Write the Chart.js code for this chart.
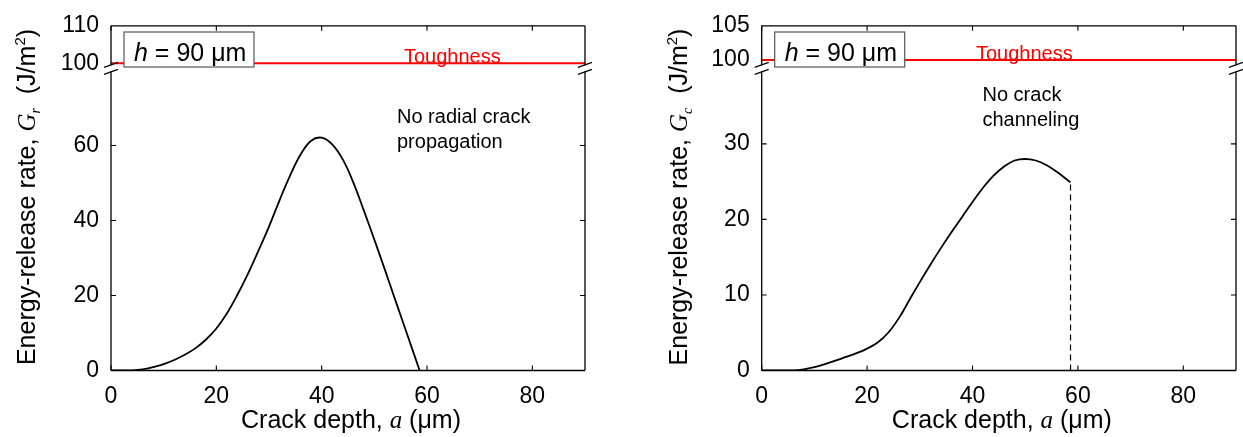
<!DOCTYPE html>
<html>
<head>
<meta charset="utf-8">
<script src="https://cdn.jsdelivr.net/npm/chart.js@4.4.0/dist/chart.umd.min.js"></script>
<style>
  html, body { margin: 0; padding: 0; background: #fff; }
  #wrap { position: relative; width: 1243px; height: 437px; }
  #left { position: absolute; left: 0; top: 0; }
  #right { position: absolute; left: 620px; top: 0; }
</style>
</head>
<body>
<div id="wrap">
  <canvas id="left" width="620" height="437"></canvas>
  <canvas id="right" width="623" height="437"></canvas>
</div>
<script>
// radial crack, G_r vs crack depth a (um)
const radialDepth = [0, 4, 6, 8, 10, 12, 14, 16, 18, 20, 22, 24, 26, 28, 30, 32, 34, 36, 38, 40, 42, 44, 46, 48, 50, 52, 54, 56, 58.6];
const radialG = [0, 0.05, 0.3, 0.9, 1.7, 2.8, 4.2, 5.9, 8.2, 11.2, 15.2, 20.2, 25.8, 32, 38.4, 45.4, 52, 57.6, 61.3, 62.1, 60.3, 56.3, 50.2, 42.7, 34.9, 26.9, 18.7, 10.6, 0];

// channel crack, G_c vs crack depth a (um)
const channelDepth = [0, 6, 8, 10, 12, 14, 16, 18, 20, 22, 24, 26, 28, 30, 32, 34, 36, 38, 40, 42, 44, 46, 48, 50, 52, 54, 56, 58.6];
const channelG = [0, 0, 0.15, 0.45, 0.85, 1.3, 1.8, 2.3, 2.9, 3.7, 5.0, 6.9, 9.3, 11.7, 14.0, 16.2, 18.3, 20.3, 22.3, 24.2, 25.8, 27.0, 27.8, 28.0, 27.8, 27.2, 26.3, 24.9];
const channelStopDepth = [58.6, 58.6];
const channelStopG = [0, 24.9];

const toughness = 100;
const depthRange = [0, 90];

const xTicks = [0, 20, 40, 60, 80];
const leftLowTicks = [0, 20, 40, 60];
const leftHighTicks = [100, 110];
const rightLowTicks = [0, 10, 20, 30];
const rightHighTicks = [100, 105];

const SANS = "'Liberation Sans', Arial, sans-serif";
const SERIF = "'Liberation Serif', 'Times New Roman', serif";

const pts = (xs, ys) => xs.map((x, i) => ({ x: x, y: ys[i] }));

// draw a line of mixed-font text centred on (x, y), optionally rotated
function drawRich(ctx, parts, x, y, rotate) {
  ctx.save();
  ctx.translate(x, y);
  if (rotate) ctx.rotate(-Math.PI / 2);
  ctx.textAlign = 'left';
  ctx.textBaseline = 'alphabetic';
  ctx.fillStyle = '#000';
  let total = 0;
  parts.forEach(p => { ctx.font = p[1]; total += ctx.measureText(p[0]).width; });
  let cx = -total / 2;
  parts.forEach(p => {
    ctx.font = p[1];
    ctx.fillText(p[0], cx, p[2] || 0);
    cx += ctx.measureText(p[0]).width;
  });
  ctx.restore();
}

// frame, inward ticks, axis break, labels
const decorPlugin = {
  id: 'decor',
  afterDatasetsDraw(chart) {
    const o = chart.options.plugins.decor;
    const ctx = chart.ctx;
    const a = chart.chartArea;
    const x = chart.scales.x, yl = chart.scales.yLow;
    const brk = yl.top;

    ctx.save();
    // frame
    ctx.strokeStyle = '#000';
    ctx.lineWidth = 1.3;
    ctx.beginPath();
    ctx.moveTo(a.left, a.top); ctx.lineTo(a.right, a.top);
    ctx.moveTo(a.left, a.bottom); ctx.lineTo(a.right, a.bottom);
    ctx.moveTo(a.left, a.top); ctx.lineTo(a.left, brk - 3);
    ctx.moveTo(a.left, brk + 3); ctx.lineTo(a.left, a.bottom);
    ctx.moveTo(a.right, a.top); ctx.lineTo(a.right, brk - 3);
    ctx.moveTo(a.right, brk + 3); ctx.lineTo(a.right, a.bottom);
    ctx.stroke();

    // inward tick marks
    ctx.lineWidth = 1.1;
    ctx.beginPath();
    xTicks.forEach(v => {
      const px = x.getPixelForValue(v);
      ctx.moveTo(px, a.bottom); ctx.lineTo(px, a.bottom - 5);
      ctx.moveTo(px, a.top); ctx.lineTo(px, a.top + 5);
    });
    o.lowTicks.forEach(v => {
      const py = yl.getPixelForValue(v);
      ctx.moveTo(a.left, py); ctx.lineTo(a.left + 5, py);
      ctx.moveTo(a.right, py); ctx.lineTo(a.right - 5, py);
    });
    ctx.stroke();

    // axis break marks
    ctx.lineWidth = 1.2;
    ctx.beginPath();
    [a.left, a.right].forEach(sx => {
      ctx.moveTo(sx - 7, brk - 1); ctx.lineTo(sx + 7, brk - 6);
      ctx.moveTo(sx - 7, brk + 6); ctx.lineTo(sx + 7, brk + 1);
    });
    ctx.stroke();

    // Toughness label
    ctx.fillStyle = '#ff0000';
    ctx.font = '20px ' + SANS;
    ctx.textBaseline = 'alphabetic';
    ctx.fillText('Toughness', o.tough[0], o.tough[1]);

    // h = 90 um box
    const bx = a.left + 13, by = 32, bw = 130, bh = 35;
    ctx.fillStyle = '#fff';
    ctx.fillRect(bx, by, bw, bh);
    ctx.strokeStyle = '#555';
    ctx.lineWidth = 1.2;
    ctx.strokeRect(bx, by, bw, bh);
    ctx.fillStyle = '#000';
    ctx.font = 'italic 25px ' + SANS;
    ctx.fillText('h', bx + 10, by + 29);
    const hw = ctx.measureText('h').width;
    ctx.font = '25px ' + SANS;
    ctx.fillText(' = 90 \u03bcm', bx + 10 + hw, by + 29);

    // note text
    ctx.font = '20px ' + SANS;
    o.note.forEach((t, i) => ctx.fillText(t, o.notePos[0], o.notePos[1] + i * 25));

    // axis titles
    drawRich(ctx, [
      ['Crack depth, ', '25px ' + SANS],
      ['a', 'italic 25px ' + SERIF],
      [' (\u03bcm)', '25px ' + SANS]
    ], (a.left + a.right) / 2 + 3, 428, false);
    drawRich(ctx, [
      ['Energy-release rate, ', '25px ' + SANS],
      ['G', 'italic 25px ' + SERIF],
      [o.sub, 'italic 14px ' + SERIF, 5],
      ['  (J/m', '25px ' + SANS],
      ['2', '15px ' + SANS, -10],
      [')', '25px ' + SANS]
    ], o.titleX, 197, true);
    ctx.restore();
  }
};

function makeChart(id, cfg) {
  const tickFont = { family: SANS, size: 23 };
  const fixTicks = arr => s => { s.ticks = arr.map(v => ({ value: v })); };
  const yBase = {
    type: 'linear', position: 'left', stack: 'g',
    grid: { display: false, drawTicks: false }, border: { display: false },
    ticks: { font: tickFont, color: '#000', padding: 12, autoSkip: false },
    afterFit: s => { s.width = 60; }
  };
  return new Chart(document.getElementById(id), {
    type: 'line',
    data: {
      datasets: [
        { data: pts(depthRange, [toughness, toughness]), yAxisID: 'yHigh', borderColor: '#ff0000', borderWidth: 2, pointRadius: 0 },
        { data: pts(cfg.xs, cfg.ys), yAxisID: 'yLow', borderColor: '#000', borderWidth: 1.8, pointRadius: 0, tension: 0.4 }
      ].concat(cfg.extra || [])
    },
    options: {
      responsive: false,
      animation: false,
      layout: { padding: { left: cfg.padLeft, right: cfg.padRight, top: 22, bottom: 16.5 } },
      plugins: {
        legend: { display: false },
        tooltip: { enabled: false },
        decor: cfg.decor
      },
      scales: {
        x: {
          type: 'linear', position: 'bottom', min: depthRange[0], max: depthRange[1],
          grid: { display: false, drawTicks: false }, border: { display: false },
          ticks: { font: tickFont, color: '#000', padding: 12, maxRotation: 0, autoSkip: false },
          afterBuildTicks: fixTicks(xTicks),
          afterFit: s => { s.height = 50; }
        },
        yLow: Object.assign({}, yBase, {
          min: 0, max: cfg.lowMax, stackWeight: 305.5, weight: 0,
          afterBuildTicks: fixTicks(cfg.lowTicks)
        }),
        yHigh: Object.assign({}, yBase, {
          min: cfg.highMin, max: cfg.highMax, stackWeight: 43, weight: 1,
          afterBuildTicks: fixTicks(cfg.highTicks)
        })
      }
    },
    plugins: [decorPlugin]
  });
}

makeChart('left', {
  xs: radialDepth, ys: radialG,
  padLeft: 51, padRight: 35,
  lowMax: 80.6, lowTicks: leftLowTicks,
  highMin: 98.68, highMax: 110, highTicks: leftHighTicks,
  decor: {
    lowTicks: leftLowTicks, sub: 'r', titleX: 35,
    tough: [404, 62.5],
    note: ['No radial crack', 'propagation'], notePos: [397, 123]
  }
});

makeChart('right', {
  xs: channelDepth, ys: channelG,
  padLeft: 81.7, padRight: 7,
  lowMax: 40, lowTicks: rightLowTicks,
  highMin: 98.8, highMax: 105, highTicks: rightHighTicks,
  extra: [{ data: pts(channelStopDepth, channelStopG), yAxisID: 'yLow', borderColor: '#000', borderWidth: 1.2, borderDash: [6, 4], pointRadius: 0 }],
  decor: {
    lowTicks: rightLowTicks, sub: 'c', titleX: 67,
    tough: [356, 60],
    note: ['No crack', 'channeling'], notePos: [362.5, 101]
  }
});
</script>
</body>
</html>
